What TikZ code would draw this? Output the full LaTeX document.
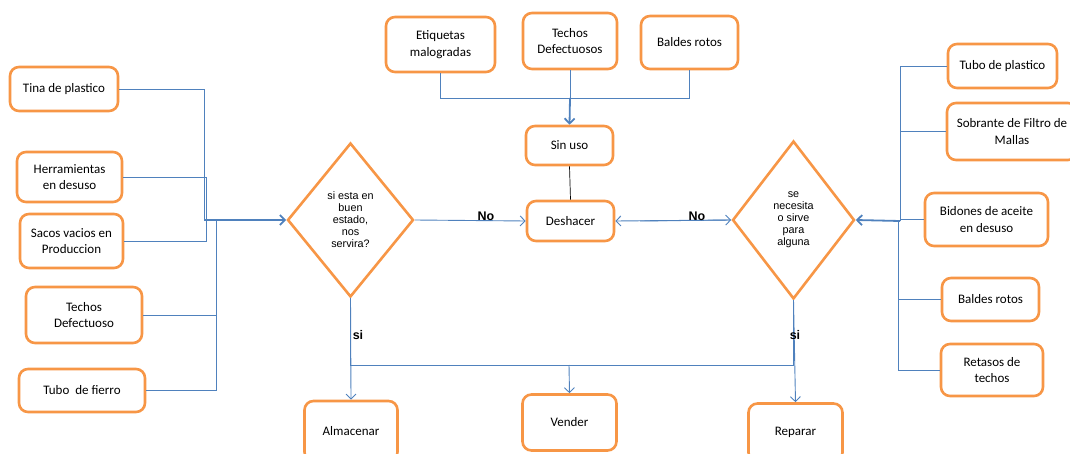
\documentclass[tikz,border=0pt]{standalone}
\usepackage{fontspec}
\setmainfont{Carlito}
\newfontfamily\arialfont{Liberation Sans}
\usetikzlibrary{shapes.geometric,arrows.meta}
\definecolor{boxorange}{HTML}{F79646}
\definecolor{linkblue}{HTML}{4F81BD}
\newcommand\boxfont{\fontsize{13}{16.5}\selectfont}
\newcommand\decfont{\arialfont\fontsize{10.8}{12}\selectfont}
\newcommand\lblfont{\arialfont\bfseries\fontsize{12.5}{14}\selectfont}
\tikzset{
  box/.style={draw=boxorange, line width=2.6pt, rounded corners=9pt, fill=white,
              align=center, inner sep=0pt, font=\boxfont},
  dec/.style={diamond, draw=boxorange, line width=2.6pt, inner sep=0pt,
              align=center, font=\decfont},
  link/.style={draw=linkblue, line width=0.9pt},
  arr/.style={link, -{Straight Barb[length=5pt,width=10pt]}},
  thickarr/.style={arr, line width=1.8pt},
  lbl/.style={font=\lblfont, inner sep=0pt}
}
\begin{document}
\begin{tikzpicture}[x=1pt,y=-1pt]
\useasboundingbox (0,0) rectangle (1070,454);

% left column of items
\node[box, minimum width=108, minimum height=44] (tina)    at (64,89)     {Tina de plastico};
\node[box, minimum width=105, minimum height=50] (herr)    at (69.5,177)  {Herramientas\\en desuso};
\node[box, minimum width=103, minimum height=54] (sacos)   at (71.5,241)  {Sacos vacios en\\Produccion};
\node[box, minimum width=116, minimum height=56] (techosL) at (84,315)    {Techos\\Defectuoso};
\node[box, minimum width=126, minimum height=43] (tubof)   at (82,390.5)  {Tubo~ de fierro};

% top row of items
\node[box, minimum width=109, minimum height=55] (etiq)    at (440.5,44.5) {Etiquetas\\malogradas};
\node[box, minimum width=94,  minimum height=56] (techosT) at (570,41)     {Techos\\Defectuosos};
\node[box, minimum width=97,  minimum height=53] (baldesT) at (689.5,42.5) {Baldes rotos};
\node[box, minimum width=87,  minimum height=39] (sinuso)  at (569.5,145.5) {Sin uso};
\node[box, minimum width=87,  minimum height=40] (deshacer) at (570.5,221) {Deshacer};

% right column of items
\node[box, minimum width=109, minimum height=44] (tubop)    at (1002.5,66)  {Tubo de plastico};
\node[box, minimum width=130, minimum height=57] (sobrante) at (1012,131.5) {Sobrante de Filtro de\\Mallas};
\node[box, minimum width=123, minimum height=53] (bidones)  at (986.5,219.5) {Bidones de aceite\\en desuso};
\node[box, minimum width=97,  minimum height=43] (baldesR)  at (990.5,299.5) {Baldes rotos};
\node[box, minimum width=102, minimum height=52] (retasos)  at (992,370)    {Retasos de\\techos};

% decisions
\node[dec, minimum width=126, minimum height=154] (d1) at (350.5,220)
  {si esta en\\buen\\estado,\\nos\\servira?};
\node[dec, minimum width=122, minimum height=158] (d2) at (793.5,220)
  {se\\necesita\\o sirve\\para\\alguna};

% outcomes
\node[box, minimum width=93, minimum height=60] (alm)     at (351,431)     {Almacenar};
\node[box, minimum width=94, minimum height=56] (vender)  at (569.5,422.5) {Vender};
\node[box, minimum width=94, minimum height=58] (reparar) at (795.5,432.5) {Reparar};

% junction points
\coordinate (jL)   at (204,220);
\coordinate (jHS)  at (206,241);
\coordinate (jT)   at (216,220);
\coordinate (jTop) at (570,98);
\coordinate (jR)   at (900,221);
\coordinate (jR3)  at (898,221);
\coordinate (jNo)  at (640,221);
\coordinate (jB1)  at (350.5,365);
\coordinate (jB2)  at (793.5,365);
\coordinate (jBV)  at (569,365);

% left feeders
\draw[link] (tina.east) -| (jL);
\draw[link] (herr.east) -| (jHS) -- (sacos.east);
\draw[link] (techosL.east) -| (jT);
\draw[link] (tubof.east) -| (jT);
\draw[thickarr] (jL) -- (d1.west);

% top feeders
\draw[link] (etiq.south) |- (jTop);
\draw[link] (techosT.south) -- (jTop);
\draw[link] (baldesT.south) |- (jTop);
\draw[thickarr] (jTop) -- (sinuso.north);
\draw[black, line width=0.7pt] (sinuso.south) -- (deshacer.north);

% "No" branches
\draw[arr] (d1.east) -- (deshacer.west);
\node[lbl] (no1) at (486,216.5) {No};
\draw[arr] (d2.west) -- (deshacer.east);
\draw[arr] (jNo) -- (d2.west);
\node[lbl] (no2) at (697,216.5) {No};

% right feeders
\draw[link] (tubop.west) -| (jR);
\draw[link] (sobrante.west) -| (jR);
\draw[link] (bidones.west) -| (jR);
\draw[link] (baldesR.west) -| (jR3);
\draw[link] (retasos.west) -| (jR3);
\draw[thickarr] (jR) -- (d2.east);

% "si" branches
\draw[link] (d1.south) -- (jB1) -- (jB2) -- (d2.south);
\draw[arr] (d1.south) -- (alm.north);
\draw[arr] (jBV) -- (vender.north);
\draw[arr] (d2.south) -- (reparar.north);
\node[lbl] (si1) at (358,335) {si};
\node[lbl] (si2) at (795,335) {si};
\end{tikzpicture}
\end{document}
